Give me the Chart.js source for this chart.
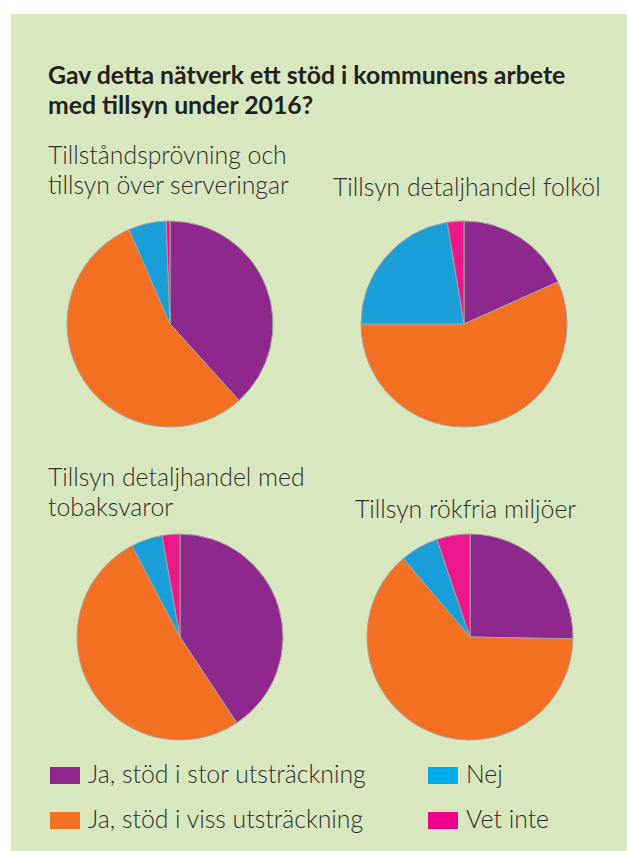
<!DOCTYPE html>
<html>
<head>
<meta charset="utf-8">
<script src="https://cdn.jsdelivr.net/npm/chart.js@4"></script>
<style>
  html, body { margin:0; padding:0; background:#fff; }
  body { width:627px; height:851px; position:relative; overflow:hidden; font-family: Lato, "Open Sans", sans-serif; color:#2b2a29; }
  #panel { position:absolute; left:11px; top:14px; width:616px; height:837px; background:#d8e7be; }
  .title { position:absolute; left:48px; top:60px; font-weight:bold; font-size:24.8px; line-height:30px; color:#231f20; white-space:nowrap; }
  .sub { position:absolute; font-size:24.8px; line-height:30px; font-weight:300; color:#2e2d2c; white-space:nowrap; }
  .pie { position:absolute; width:220px; height:220px; }
  .leg { position:absolute; font-size:24.8px; font-weight:300; color:#2e2d2c; white-space:nowrap; line-height:28px; }
  .sw { position:absolute; width:30px; height:17px; }
</style>
</head>
<body>
<div id="panel"></div>
<div class="title">Gav detta nätverk ett stöd i kommunens arbete<br>med tillsyn under 2016?</div>
<div id="t0" class="sub" style="left:48px;top:140px;">Tillståndsprövning och<br>tillsyn över serveringar</div>
<div id="t1" class="sub" style="left:333px;top:172px;">Tillsyn detaljhandel folköl</div>
<div id="t2" class="sub" style="left:48px;top:462px;">Tillsyn detaljhandel med<br>tobaksvaror</div>
<div id="t3" class="sub" style="left:355px;top:494px;">Tillsyn rökfria miljöer</div>
<canvas id="c0" class="pie" width="220" height="220" style="left:60px;top:214px;"></canvas>
<canvas id="c1" class="pie" width="220" height="220" style="left:354px;top:214px;"></canvas>
<canvas id="c2" class="pie" width="220" height="220" style="left:70px;top:527px;"></canvas>
<canvas id="c3" class="pie" width="220" height="220" style="left:360px;top:527px;"></canvas>
<div id="legend"></div>
<script>
const categories = ["Ja, stöd i stor utsträckning", "Ja, stöd i viss utsträckning", "Nej", "Vet inte"];
const pieColors = ["#8e288d", "#f36f21", "#199ed8", "#ec178c"];
const legendColors = ["#8e288d", "#f36f21", "#00aeef", "#ec008c"];
const serveringar = [38.3, 55.2, 5.9, 0.6];
const folkol = [18.3, 56.7, 22.4, 2.6];
const tobak = [40.7, 51.6, 4.9, 2.8];
const rokfria = [25.3, 63.5, 6.0, 5.2];
const series = [serveringar, folkol, tobak, rokfria];

series.forEach((vals, i) => {
  new Chart(document.getElementById('c' + i), {
    type: 'pie',
    data: {
      labels: categories,
      datasets: [{
        data: vals,
        backgroundColor: pieColors,
        borderColor: '#a3a3a3',
        borderWidth: 1,
        radius: 103
      }]
    },
    options: {
      responsive: false,
      animation: false,
      layout: { padding: 0 },
      plugins: { legend: { display: false }, tooltip: { enabled: false } }
    }
  });
});

// Legend
const legendPos = [
  { x: 50, y: 767 }, { x: 50, y: 812 }, { x: 428, y: 767 }, { x: 428, y: 812 }
];
const legEl = document.getElementById('legend');
categories.forEach((c, i) => {
  const p = legendPos[i];
  const sw = document.createElement('div');
  sw.className = 'sw';
  sw.style.left = p.x + 'px';
  sw.style.top = p.y + 'px';
  sw.style.background = legendColors[i];
  legEl.appendChild(sw);
  const t = document.createElement('div');
  t.className = 'leg';
  t.style.left = (p.x + 38) + 'px';
  t.style.top = (p.y - 7) + 'px';
  t.textContent = c;
  legEl.appendChild(t);
});
</script>
</body>
</html>
